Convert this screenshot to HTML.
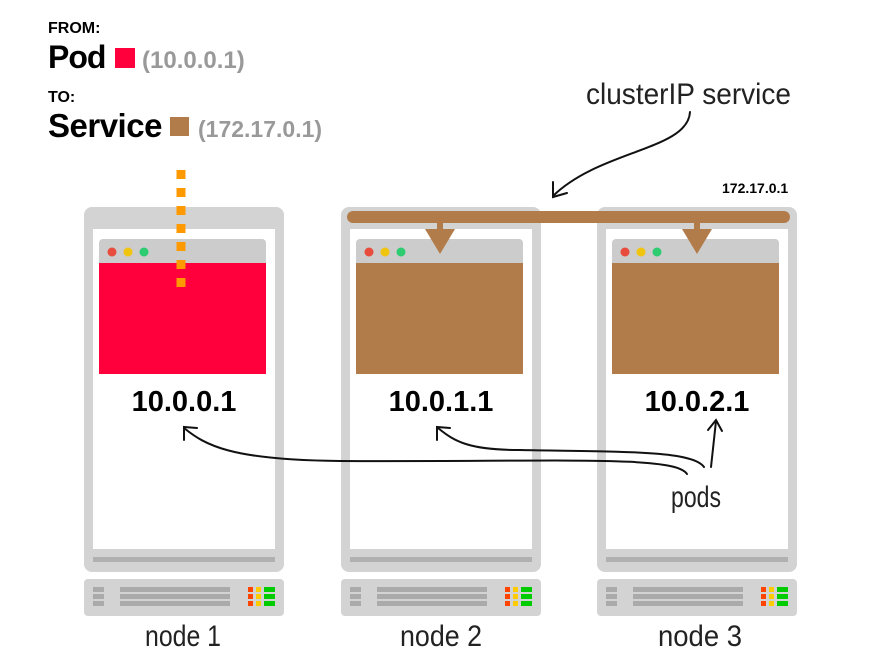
<!DOCTYPE html>
<html><head><meta charset="utf-8"><style>
body{margin:0;background:#fff;width:880px;height:660px;overflow:hidden}
svg{display:block}
</style></head><body>
<svg width="880" height="660" viewBox="0 0 880 660" xmlns="http://www.w3.org/2000/svg">
<defs>
<g id="node">
  <rect x="84" y="207" width="200" height="365" rx="8" fill="#d3d3d3"/>
  <rect x="93" y="229" width="182" height="320" fill="#fff"/>
  <rect x="93" y="557" width="182" height="5" fill="#b0b0b0"/>
  <rect x="84" y="579" width="200" height="37" rx="4" fill="#d3d3d3"/>
  <g fill="#aaa">
    <rect x="93" y="587" width="11" height="5"/><rect x="93" y="594" width="11" height="5"/><rect x="93" y="601" width="11" height="5"/>
    <rect x="120" y="587" width="110" height="5"/><rect x="120" y="594" width="110" height="5"/><rect x="120" y="601" width="110" height="5"/>
  </g>
  <g fill="#ff4400"><rect x="248" y="587" width="5" height="5"/><rect x="248" y="594" width="5" height="5"/><rect x="248" y="601" width="5" height="5"/></g>
  <g fill="#ffcc00"><rect x="256" y="587" width="5" height="5"/><rect x="256" y="594" width="5" height="5"/><rect x="256" y="601" width="5" height="5"/></g>
  <g fill="#00cc00"><rect x="264" y="587" width="11" height="5"/><rect x="264" y="594" width="11" height="5"/><rect x="264" y="601" width="11" height="5"/></g>
  <rect x="99" y="239" width="167" height="30" rx="4" fill="#cccccc"/>
  <circle cx="112" cy="252" r="4.5" fill="#e74c3c"/>
  <circle cx="128" cy="252" r="4.5" fill="#f1c40f"/>
  <circle cx="144" cy="252" r="4.5" fill="#2ecc71"/>
</g>
</defs>
<use href="#node"/>
<use href="#node" transform="translate(257,0)"/>
<use href="#node" transform="translate(513,0)"/>
<rect x="99" y="263" width="167" height="111" fill="#ff003c"/>
<rect x="356" y="263" width="167" height="111" fill="#b27c4a"/>
<rect x="612" y="263" width="167" height="111" fill="#b27c4a"/>

<line x1="181" y1="170" x2="181" y2="296" stroke="#ff9900" stroke-width="9" stroke-dasharray="9,9"/>

<rect x="347" y="211" width="443" height="12" rx="6" fill="#b27c4a"/>
<rect x="437" y="222" width="6" height="10" fill="#b27c4a"/>
<polygon points="425,229 455,229 440,254" fill="#b27c4a"/>
<rect x="694" y="222" width="6" height="10" fill="#b27c4a"/>
<polygon points="682,229 712,229 697,254" fill="#b27c4a"/>

<g font-family="Liberation Sans, sans-serif" font-weight="bold">
<text x="48" y="33" font-size="16">FROM:</text>
<text x="48" y="68" font-size="32" letter-spacing="-1">Pod</text>
<rect x="115" y="48" width="20" height="20" fill="#ff003c"/>
<text x="142" y="68" font-size="24" fill="#999">(10.0.0.1)</text>
<text x="48" y="102" font-size="16">TO:</text>
<text x="48" y="137" font-size="33" letter-spacing="-0.5">Service</text>
<rect x="170" y="117" width="19" height="19" fill="#b27c4a"/>
<text x="198" y="137" font-size="23" fill="#999">(172.17.0.1)</text>
<text x="722" y="193" font-size="14">172.17.0.1</text>
<text x="184" y="411" font-size="29" text-anchor="middle">10.0.0.1</text>
<text x="441" y="411" font-size="29" text-anchor="middle">10.0.1.1</text>
<text x="697" y="411" font-size="29" text-anchor="middle">10.0.2.1</text>
</g>

<g font-family="Liberation Sans Narrow, Liberation Sans, sans-serif" font-weight="normal" fill="#222">
<text x="586" y="104" font-size="30" textLength="205" lengthAdjust="spacingAndGlyphs">clusterIP service</text>
<text x="671" y="507" font-size="30" textLength="50" lengthAdjust="spacingAndGlyphs">pods</text>
<text x="145" y="646" font-size="30" textLength="76" lengthAdjust="spacingAndGlyphs">node 1</text>
<text x="400" y="646" font-size="30" textLength="82" lengthAdjust="spacingAndGlyphs">node 2</text>
<text x="658" y="646" font-size="30" textLength="84" lengthAdjust="spacingAndGlyphs">node 3</text>
</g>

<g fill="none" stroke="#111" stroke-width="2" stroke-linecap="round">
<path d="M690,112 C688,150 600,150 553,196"/>
<path d="M553,182 L553,197 L567,193"/>
<path d="M687,474 C675,455 560,462 340,461 C230,460 205,445 184,428"/>
<path d="M184,440 L184,427 L197,428"/>
<path d="M704,467 C692,450 620,452 520,450 C470,450 455,442 438,428"/>
<path d="M437,440 L437,427 L450,428"/>
<path d="M711,467 L716,421"/>
<path d="M708,430 L716,420 L722,431"/>
</g>
</svg>
</body></html>
